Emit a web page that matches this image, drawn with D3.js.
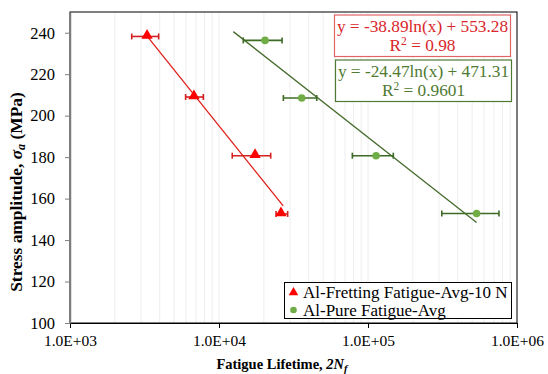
<!DOCTYPE html>
<html>
<head>
<meta charset="utf-8">
<script src="https://cdn.jsdelivr.net/npm/d3@7"></script>
<style>
  body { margin: 0; background: #fff; }
  text { font-family: "Liberation Serif", "Times New Roman", serif; }
</style>
</head>
<body>
<div class="chart"></div>
<script>
// fretting fatigue (10 N) averages
var frettingLife = [3290, 6790, 17460, 26060];
var frettingLifeLow = [2595, 5970, 12270, 24150];
var frettingLifeHigh = [3935, 7850, 22230, 28900];
var frettingStress = [238.2, 209.0, 180.7, 152.6];

// pure fatigue averages
var pureLife = [20370, 35900, 113300, 535700];
var pureLifeLow = [14550, 27040, 78500, 312700];
var pureLifeHigh = [26500, 45300, 147900, 757000];
var pureStress = [236.3, 208.5, 180.7, 152.8];

// log trendlines y = a ln(x) + b and the span they are drawn over
var frettingTrend = [-38.89, 553.28];
var pureTrend = [-24.47, 471.31];
var frettingTrendSpan = [3290, 26980];
var pureTrendSpan = [12470, 535700];

var frettingLabel = ["y = -38.89ln(x) + 553.28", "0.98"];
var pureLabel = ["y = -24.47ln(x) + 471.31", "0.9601"];
var seriesNames = ["Al-Fretting Fatigue-Avg-10 N", "Al-Pure Fatigue-Avg"];

var xTicks = [1e3, 1e4, 1e5, 1e6];
var yTicks = [100, 120, 140, 160, 180, 200, 220, 240];

var svgWidth = 548, svgHeight = 374;
var margin = { top: 12, right: 31, bottom: 51, left: 70 };
var width = svgWidth - margin.left - margin.right;
var height = svgHeight - margin.top - margin.bottom;

var svg = d3.select(".chart").append("svg")
  .attr("width", svgWidth)
  .attr("height", svgHeight);

var chartGroup = svg.append("g")
  .attr("transform", `translate(${margin.left}, ${margin.top})`);

var xScale = d3.scaleLog().domain([1e3, 1e6]).range([0, width]);
var yScale = d3.scaleLinear().domain([100, 250]).range([height, 0]);

// minor vertical gridlines
var gridVals = [];
xTicks.forEach(function(d) {
  for (var k = 1; k <= 9; k++) {
    if (d * k <= 1e6) gridVals.push(d * k);
  }
});
chartGroup.append("g").selectAll("line")
  .data(gridVals)
  .enter()
  .append("line")
  .attr("x1", d => xScale(d)).attr("x2", d => xScale(d))
  .attr("y1", 0).attr("y2", height)
  .attr("stroke", "#eeeeee")
  .attr("stroke-width", 1);

// plot border
chartGroup.append("rect")
  .attr("width", width).attr("height", height)
  .attr("fill", "none")
  .attr("stroke", "#000")
  .attr("stroke-width", 1);

// axes
var sciFormat = function(d) {
  var e = Math.round(Math.log10(d));
  return "1.0E+" + (e < 10 ? "0" + e : e);
};
var xAxis = d3.axisBottom(xScale).tickValues(xTicks).tickFormat(sciFormat).tickSize(5).tickSizeOuter(0);
var yAxis = d3.axisLeft(yScale).tickValues(yTicks).tickSize(5).tickSizeOuter(0);

var xg = chartGroup.append("g")
  .attr("transform", `translate(0, ${height})`)
  .call(xAxis);
xg.select(".domain").attr("stroke", "#000").attr("stroke-width", 1.2);
xg.selectAll(".tick line").attr("stroke", "#000");
xg.selectAll(".tick text").attr("font-size", 15.5).attr("fill", "#000")
  .attr("font-family", "Liberation Serif").attr("dy", "0.95em");

var yg = chartGroup.append("g").call(yAxis);
yg.select(".domain").attr("stroke", "#7f7f7f").attr("stroke-width", 1.5);
yg.selectAll(".tick line").attr("stroke", "#7f7f7f");
yg.selectAll(".tick text").attr("font-size", 16.5).attr("fill", "#000")
  .attr("font-family", "Liberation Serif").attr("x", -15);

// trendlines
var trendLine = d3.line().x(d => xScale(d[0])).y(d => yScale(d[1]));
function trendPoints(fit, span) {
  return span.map(x => [x, fit[0] * Math.log(x) + fit[1]]);
}
chartGroup.append("path")
  .datum(trendPoints(frettingTrend, frettingTrendSpan))
  .attr("d", trendLine)
  .attr("fill", "none")
  .attr("stroke", "#e0201c")
  .attr("stroke-width", 1.3);
chartGroup.append("path")
  .datum(trendPoints(pureTrend, pureTrendSpan))
  .attr("d", trendLine)
  .attr("fill", "none")
  .attr("stroke", "#456b2e")
  .attr("stroke-width", 1.3);

// error bars
function drawErrorBars(life, low, high, stress, color) {
  var g = chartGroup.append("g").attr("stroke", color).attr("stroke-width", 1.6);
  stress.forEach(function(s, i) {
    var y = yScale(s);
    g.append("line").attr("x1", xScale(low[i])).attr("x2", xScale(high[i]))
      .attr("y1", y).attr("y2", y);
    [low[i], high[i]].forEach(function(v) {
      g.append("line").attr("x1", xScale(v)).attr("x2", xScale(v))
        .attr("y1", y - 3).attr("y2", y + 3);
    });
  });
}
drawErrorBars(frettingLife, frettingLifeLow, frettingLifeHigh, frettingStress, "#d42020");
drawErrorBars(pureLife, pureLifeLow, pureLifeHigh, pureStress, "#3d6b26");

// markers
var triangle = d3.symbol().type(d3.symbolTriangle).size(55);
chartGroup.append("g").selectAll("path")
  .data(frettingLife)
  .enter()
  .append("path")
  .attr("d", triangle)
  .attr("transform", (d, i) => `translate(${xScale(d)}, ${yScale(frettingStress[i]) - 1})`)
  .attr("fill", "#ff0000");

chartGroup.append("g").selectAll("circle")
  .data(pureLife)
  .enter()
  .append("circle")
  .attr("cx", d => xScale(d))
  .attr("cy", (d, i) => yScale(pureStress[i]))
  .attr("r", 3.8)
  .attr("fill", "#70ad47");

// equation labels
function equationBox(lines, x, y, color, border) {
  var g = svg.append("g").attr("transform", `translate(${x}, ${y})`);
  g.append("rect").attr("width", 176).attr("height", 41.5)
    .attr("fill", "#fff").attr("stroke", border).attr("stroke-width", 1.2);
  var t = g.append("text").attr("fill", color).attr("font-size", 17.3).attr("text-anchor", "middle");
  t.append("tspan").attr("x", 88).attr("y", 17).text(lines[0]);
  var r = g.append("text").attr("fill", color).attr("font-size", 17.3).attr("text-anchor", "middle")
    .attr("x", 88).attr("y", 36);
  r.append("tspan").text("R");
  r.append("tspan").attr("dy", -6).attr("font-size", 11.5).text("2");
  r.append("tspan").attr("dy", 6).text(" = " + lines[1]);
}
equationBox(frettingLabel, 334.5, 15, "#d9262b", "#e06666");
equationBox(pureLabel, 335.5, 60, "#4f7a32", "#4e7a34");

// legend
var legend = svg.append("g").attr("transform", "translate(284.5, 282.5)");
legend.append("rect").attr("width", 227).attr("height", 36)
  .attr("fill", "#fff").attr("stroke", "#000").attr("stroke-width", 1);
legend.append("path").attr("d", d3.symbol().type(d3.symbolTriangle).size(40))
  .attr("transform", "translate(9, 10)").attr("fill", "#ff0000");
legend.append("circle").attr("cx", 9).attr("cy", 27.5).attr("r", 3.3).attr("fill", "#70ad47");
legend.selectAll("text.name")
  .data(seriesNames)
  .enter()
  .append("text")
  .attr("class", "name")
  .attr("x", 18.5)
  .attr("y", (d, i) => 15 + i * 18)
  .attr("font-size", 17)
  .attr("fill", "#000")
  .text(d => d);

// axis titles
var xTitle = svg.append("text")
  .attr("x", 282).attr("y", 369)
  .attr("text-anchor", "middle")
  .attr("font-weight", "bold")
  .attr("font-size", 14.5)
  .attr("fill", "#000");
xTitle.append("tspan").text("Fatigue Lifetime, ");
xTitle.append("tspan").attr("font-style", "italic").text("2N");
xTitle.append("tspan").attr("font-style", "italic").attr("font-size", 10.5).attr("dy", 3).text("f");

var yTitle = svg.append("text")
  .attr("transform", "translate(22, 192) rotate(-90)")
  .attr("text-anchor", "middle")
  .attr("font-weight", "bold")
  .attr("font-size", 17.4)
  .attr("fill", "#000");
yTitle.append("tspan").text("Stress amplitude, ");
yTitle.append("tspan").attr("font-style", "italic").text("σ");
yTitle.append("tspan").attr("font-style", "italic").attr("font-size", 12).attr("dy", 3).text("a");
yTitle.append("tspan").attr("dy", -3).text(" (MPa)");
</script>
</body>
</html>
